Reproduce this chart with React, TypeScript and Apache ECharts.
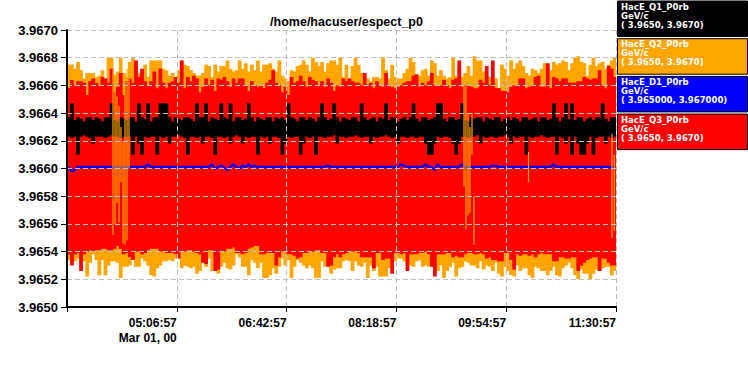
import React, { useEffect, useRef } from "react";
import * as echarts from "echarts";

// ---------- texts ----------
const TITLE = "/home/hacuser/espect_p0";
const X_TICK_LABELS = ["", "05:06:57", "06:42:57", "08:18:57", "09:54:57", "11:30:57"];
const X_DATE_LABEL = "Mar 01, 00";
const X_SPAN_MINUTES = 480; // 03:30:57 .. 11:30:57
const X_TICK_MINUTES = 96;
const Y_MIN = 3.965;
const Y_MAX = 3.967;
const Y_STEP = 0.0002;

const legendNames = ["HacE_Q1_P0rb", "HacE_Q2_P0rb", "HacE_D1_P0rb", "HacE_Q3_P0rb"];
const legendUnits = ["GeV/c", "GeV/c", "GeV/c", "GeV/c"];
const legendRanges = ["( 3.9650, 3.9670)", "( 3.9650, 3.9670)", "( 3.965000, 3.967000)", "( 3.9650, 3.9670)"];
const legendColors = ["#000000", "#ffa500", "#0000ff", "#ff0000"];

// ---------- data: per-sample envelopes (180 samples over 8 h) ----------
// HacE_Q3_P0rb (red)
const q3High = [
  3.96658, 3.96664, 3.96660, 3.96663, 3.96663, 3.96662, 3.96653, 3.96663, 3.96665, 3.96662,
  3.96660, 3.96666, 3.96665, 3.96662, 3.96672, 3.96655, 3.96659, 3.96669, 3.96653, 3.96663,
  3.96665, 3.96662, 3.96678, 3.96666, 3.96672, 3.96663, 3.96660, 3.96663, 3.96670, 3.96658,
  3.96672, 3.96662, 3.96658, 3.96662, 3.96663, 3.96666, 3.96662, 3.96678, 3.96658, 3.96666,
  3.96663, 3.96667, 3.96665, 3.96655, 3.96659, 3.96665, 3.96660, 3.96664, 3.96656, 3.96665,
  3.96664, 3.96666, 3.96663, 3.96659, 3.96665, 3.96662, 3.96665, 3.96665, 3.96660, 3.96656,
  3.96663, 3.96660, 3.96659, 3.96660, 3.96658, 3.96662, 3.96664, 3.96671, 3.96662, 3.96660,
  3.96655, 3.96659, 3.96653, 3.96666, 3.96662, 3.96663, 3.96667, 3.96663, 3.96659, 3.96666,
  3.96664, 3.96663, 3.96660, 3.96663, 3.96659, 3.96665, 3.96662, 3.96656, 3.96660, 3.96659,
  3.96665, 3.96663, 3.96665, 3.96663, 3.96662, 3.96662, 3.96660, 3.96669, 3.96660, 3.96662,
  3.96658, 3.96663, 3.96660, 3.96659, 3.96669, 3.96660, 3.96659, 3.96658, 3.96659, 3.96660,
  3.96662, 3.96663, 3.96663, 3.96667, 3.96668, 3.96659, 3.96662, 3.96660, 3.96663, 3.96669,
  3.96660, 3.96660, 3.96660, 3.96664, 3.96660, 3.96658, 3.96664, 3.96665, 3.96678, 3.96659,
  3.96660, 3.96660, 3.96659, 3.96658, 3.96658, 3.96664, 3.96662, 3.96674, 3.96660, 3.96678,
  3.96658, 3.96658, 3.96656, 3.96656, 3.96655, 3.96659, 3.96660, 3.96660, 3.96665, 3.96665,
  3.96658, 3.96659, 3.96660, 3.96666, 3.96667, 3.96659, 3.96659, 3.96676, 3.96658, 3.96666,
  3.96665, 3.96663, 3.96665, 3.96665, 3.96662, 3.96662, 3.96662, 3.96663, 3.96663, 3.96666,
  3.96665, 3.96664, 3.96665, 3.96665, 3.96671, 3.96660, 3.96658, 3.96674, 3.96672, 3.96666,
];
const q3Low = [
  3.96538, 3.96530, 3.96538, 3.96539, 3.96526, 3.96538, 3.96540, 3.96541, 3.96540, 3.96541,
  3.96541, 3.96542, 3.96542, 3.96541, 3.96541, 3.96542, 3.96544, 3.96542, 3.96538, 3.96539,
  3.96536, 3.96534, 3.96540, 3.96540, 3.96538, 3.96539, 3.96541, 3.96542, 3.96542, 3.96542,
  3.96540, 3.96540, 3.96539, 3.96539, 3.96539, 3.96538, 3.96535, 3.96540, 3.96540, 3.96541,
  3.96541, 3.96540, 3.96539, 3.96538, 3.96532, 3.96531, 3.96541, 3.96541, 3.96526, 3.96527,
  3.96540, 3.96540, 3.96542, 3.96542, 3.96543, 3.96539, 3.96539, 3.96538, 3.96539, 3.96542,
  3.96543, 3.96544, 3.96544, 3.96538, 3.96538, 3.96539, 3.96539, 3.96539, 3.96530, 3.96536,
  3.96540, 3.96540, 3.96538, 3.96538, 3.96537, 3.96535, 3.96536, 3.96539, 3.96539, 3.96540,
  3.96540, 3.96541, 3.96541, 3.96539, 3.96539, 3.96529, 3.96530, 3.96536, 3.96538, 3.96536,
  3.96538, 3.96539, 3.96540, 3.96540, 3.96540, 3.96539, 3.96536, 3.96536, 3.96536, 3.96536,
  3.96528, 3.96539, 3.96539, 3.96534, 3.96535, 3.96535, 3.96524, 3.96539, 3.96539, 3.96538,
  3.96539, 3.96526, 3.96538, 3.96538, 3.96538, 3.96539, 3.96539, 3.96540, 3.96538, 3.96529,
  3.96522, 3.96538, 3.96538, 3.96538, 3.96539, 3.96539, 3.96536, 3.96537, 3.96536, 3.96536,
  3.96538, 3.96539, 3.96539, 3.96538, 3.96538, 3.96539, 3.96538, 3.96535, 3.96536, 3.96534,
  3.96534, 3.96533, 3.96533, 3.96539, 3.96539, 3.96534, 3.96527, 3.96538, 3.96537, 3.96538,
  3.96538, 3.96537, 3.96538, 3.96536, 3.96538, 3.96539, 3.96538, 3.96538, 3.96538, 3.96533,
  3.96533, 3.96536, 3.96536, 3.96535, 3.96535, 3.96536, 3.96536, 3.96526, 3.96530, 3.96532,
  3.96534, 3.96535, 3.96536, 3.96536, 3.96526, 3.96535, 3.96535, 3.96532, 3.96530, 3.96530,
];
// HacE_Q2_P0rb (orange)
const q2High = [
  3.96675, 3.96675, 3.96672, 3.96677, 3.96671, 3.96665, 3.96669, 3.96669, 3.96669, 3.96666,
  3.96667, 3.96671, 3.96665, 3.96680, 3.96680, 3.96667, 3.96670, 3.96680, 3.96669, 3.96666,
  3.96677, 3.96680, 3.96675, 3.96669, 3.96667, 3.96675, 3.96666, 3.96678, 3.96678, 3.96678,
  3.96678, 3.96672, 3.96671, 3.96667, 3.96669, 3.96665, 3.96671, 3.96678, 3.96675, 3.96674,
  3.96671, 3.96669, 3.96667, 3.96667, 3.96669, 3.96675, 3.96674, 3.96666, 3.96675, 3.96670,
  3.96674, 3.96674, 3.96678, 3.96672, 3.96670, 3.96671, 3.96678, 3.96672, 3.96676, 3.96670,
  3.96675, 3.96671, 3.96678, 3.96670, 3.96675, 3.96675, 3.96676, 3.96672, 3.96670, 3.96678,
  3.96667, 3.96665, 3.96663, 3.96671, 3.96670, 3.96674, 3.96675, 3.96678, 3.96675, 3.96670,
  3.96680, 3.96677, 3.96674, 3.96677, 3.96670, 3.96676, 3.96678, 3.96678, 3.96675, 3.96680,
  3.96666, 3.96675, 3.96665, 3.96674, 3.96680, 3.96675, 3.96669, 3.96666, 3.96665, 3.96663,
  3.96666, 3.96666, 3.96665, 3.96680, 3.96671, 3.96665, 3.96675, 3.96666, 3.96665, 3.96665,
  3.96669, 3.96672, 3.96680, 3.96677, 3.96665, 3.96667, 3.96671, 3.96672, 3.96667, 3.96678,
  3.96676, 3.96667, 3.96671, 3.96667, 3.96665, 3.96666, 3.96680, 3.96667, 3.96672, 3.96666,
  3.96669, 3.96674, 3.96667, 3.96681, 3.96678, 3.96678, 3.96670, 3.96667, 3.96666, 3.96664,
  3.96665, 3.96658, 3.96675, 3.96672, 3.96667, 3.96678, 3.96672, 3.96676, 3.96678, 3.96674,
  3.96669, 3.96667, 3.96672, 3.96671, 3.96669, 3.96672, 3.96676, 3.96675, 3.96671, 3.96677,
  3.96675, 3.96676, 3.96678, 3.96677, 3.96671, 3.96676, 3.96680, 3.96681, 3.96677, 3.96676,
  3.96667, 3.96675, 3.96680, 3.96674, 3.96676, 3.96677, 3.96672, 3.96675, 3.96678, 3.96680,
];
const q2Low = [
  3.96534, 3.96533, 3.96533, 3.96535, 3.96533, 3.96533, 3.96522, 3.96532, 3.96538, 3.96534,
  3.96523, 3.96534, 3.96523, 3.96530, 3.96533, 3.96533, 3.96532, 3.96521, 3.96529, 3.96529,
  3.96530, 3.96534, 3.96529, 3.96529, 3.96535, 3.96533, 3.96530, 3.96523, 3.96522, 3.96528,
  3.96530, 3.96533, 3.96533, 3.96534, 3.96533, 3.96535, 3.96535, 3.96528, 3.96530, 3.96529,
  3.96528, 3.96529, 3.96524, 3.96526, 3.96532, 3.96529, 3.96535, 3.96526, 3.96526, 3.96524,
  3.96529, 3.96532, 3.96528, 3.96527, 3.96530, 3.96538, 3.96536, 3.96529, 3.96529, 3.96523,
  3.96534, 3.96532, 3.96528, 3.96532, 3.96521, 3.96521, 3.96523, 3.96528, 3.96524, 3.96529,
  3.96535, 3.96530, 3.96534, 3.96521, 3.96529, 3.96534, 3.96532, 3.96530, 3.96528, 3.96530,
  3.96528, 3.96521, 3.96521, 3.96533, 3.96529, 3.96530, 3.96524, 3.96527, 3.96528, 3.96528,
  3.96533, 3.96534, 3.96533, 3.96526, 3.96533, 3.96530, 3.96529, 3.96532, 3.96521, 3.96530,
  3.96526, 3.96529, 3.96522, 3.96522, 3.96522, 3.96528, 3.96532, 3.96533, 3.96535, 3.96535,
  3.96533, 3.96532, 3.96530, 3.96529, 3.96533, 3.96534, 3.96529, 3.96530, 3.96529, 3.96529,
  3.96530, 3.96526, 3.96530, 3.96521, 3.96526, 3.96529, 3.96532, 3.96522, 3.96528, 3.96529,
  3.96533, 3.96532, 3.96530, 3.96530, 3.96528, 3.96533, 3.96527, 3.96530, 3.96529, 3.96526,
  3.96532, 3.96524, 3.96522, 3.96529, 3.96526, 3.96523, 3.96522, 3.96530, 3.96526, 3.96528,
  3.96528, 3.96523, 3.96521, 3.96529, 3.96528, 3.96526, 3.96526, 3.96523, 3.96526, 3.96529,
  3.96523, 3.96522, 3.96528, 3.96530, 3.96532, 3.96528, 3.96523, 3.96520, 3.96527, 3.96524,
  3.96524, 3.96520, 3.96524, 3.96527, 3.96526, 3.96528, 3.96529, 3.96529, 3.96523, 3.96526,
];
// HacE_Q2_P0rb short excursions across the band: [minute, low, high]
const q2Excursions = [
  [40.2, 3.96552, 3.96672], [42.0, 3.9656, 3.96668], [43.7, 3.96575, 3.96652],
  [45.5, 3.96561, 3.96645], [47.2, 3.9659, 3.9663], [49.0, 3.96546, 3.9662],
  [50.7, 3.96545, 3.96668], [52.5, 3.96548, 3.96672], [54.2, 3.966, 3.96672],
  [347.1, 3.96587, 3.96668], [348.8, 3.96556, 3.9666], [350.6, 3.96566, 3.9664],
  [352.3, 3.96568, 3.9663], [354.1, 3.9661, 3.9664], [355.8, 3.96545, 3.9658],
  [403.5, 3.9659, 3.96612], [476.5, 3.9655, 3.96625], [478.5, 3.96555, 3.9661],
];
// HacE_Q1_P0rb (black)
const q1High = [
  3.96637, 3.96647, 3.96635, 3.96637, 3.96636, 3.96634, 3.96637, 3.96637, 3.96635, 3.96637,
  3.96636, 3.96634, 3.96637, 3.96637, 3.96647, 3.96635, 3.96634, 3.96637, 3.96636, 3.96635,
  3.96637, 3.96637, 3.96634, 3.96647, 3.96637, 3.96636, 3.96647, 3.96634, 3.96637, 3.96637,
  3.96647, 3.96647, 3.96647, 3.96637, 3.96634, 3.96637, 3.96636, 3.96635, 3.96637, 3.96637,
  3.96636, 3.96634, 3.96647, 3.96637, 3.96637, 3.96647, 3.96634, 3.96637, 3.96636, 3.96635,
  3.96647, 3.96637, 3.96636, 3.96647, 3.96634, 3.96637, 3.96637, 3.96635, 3.96636, 3.96647,
  3.96637, 3.96634, 3.96637, 3.96636, 3.96635, 3.96637, 3.96637, 3.96634, 3.96637, 3.96636,
  3.96637, 3.96635, 3.96647, 3.96637, 3.96636, 3.96634, 3.96637, 3.96637, 3.96635, 3.96637,
  3.96636, 3.96634, 3.96637, 3.96647, 3.96637, 3.96635, 3.96636, 3.96647, 3.96637, 3.96634,
  3.96637, 3.96636, 3.96635, 3.96637, 3.96637, 3.96634, 3.96647, 3.96637, 3.96635, 3.96636,
  3.96637, 3.96634, 3.96637, 3.96636, 3.96647, 3.96635, 3.96637, 3.96637, 3.96634, 3.96636,
  3.96637, 3.96635, 3.96637, 3.96647, 3.96636, 3.96634, 3.96637, 3.96637, 3.96635, 3.96636,
  3.96637, 3.96647, 3.96647, 3.96636, 3.96634, 3.96637, 3.96637, 3.96635, 3.96636, 3.96647,
  3.96635, 3.96634, 3.96637, 3.96636, 3.96637, 3.96637, 3.96634, 3.96637, 3.96636, 3.96635,
  3.96637, 3.96637, 3.96634, 3.96636, 3.96637, 3.96635, 3.96637, 3.96636, 3.96634, 3.96637,
  3.96637, 3.96635, 3.96636, 3.96637, 3.96634, 3.96637, 3.96637, 3.96635, 3.96636, 3.96647,
  3.96637, 3.96634, 3.96637, 3.96647, 3.96636, 3.96647, 3.96635, 3.96637, 3.96637, 3.96634,
  3.96636, 3.96637, 3.96635, 3.96637, 3.96637, 3.96647, 3.96636, 3.96634, 3.96637, 3.96637,
];
const q1Low = [
  3.96623, 3.96622, 3.96623, 3.9661, 3.96623, 3.96624, 3.96623, 3.96622, 3.96618, 3.96623,
  3.96623, 3.96623, 3.96622, 3.96623, 3.96624, 3.96623, 3.96623, 3.96622, 3.96623, 3.96623,
  3.96623, 3.9661, 3.96623, 3.96618, 3.9661, 3.96623, 3.96622, 3.96623, 3.96623, 3.9661,
  3.96623, 3.96622, 3.96623, 3.96618, 3.96623, 3.96623, 3.96624, 3.96623, 3.96622, 3.9661,
  3.96623, 3.96623, 3.96622, 3.96623, 3.96618, 3.96623, 3.96623, 3.96622, 3.9661, 3.96623,
  3.96623, 3.96622, 3.96623, 3.96618, 3.96623, 3.96624, 3.96623, 3.96618, 3.96623, 3.96622,
  3.96623, 3.96623, 3.9661, 3.96623, 3.96622, 3.96623, 3.96618, 3.96623, 3.96623, 3.96622,
  3.9661, 3.96618, 3.96623, 3.96622, 3.96623, 3.96623, 3.9661, 3.96618, 3.96623, 3.96622,
  3.96623, 3.9661, 3.96623, 3.96623, 3.96622, 3.96623, 3.96623, 3.96624, 3.96618, 3.96623,
  3.96623, 3.96622, 3.96623, 3.96623, 3.96624, 3.96623, 3.96622, 3.96623, 3.96623, 3.96618,
  3.96623, 3.96622, 3.96623, 3.96623, 3.96624, 3.96623, 3.96622, 3.96623, 3.96618, 3.96623,
  3.96623, 3.96622, 3.96623, 3.96623, 3.96622, 3.96623, 3.96623, 3.96618, 3.9661, 3.9661,
  3.96618, 3.96623, 3.96622, 3.96623, 3.96623, 3.96622, 3.96618, 3.9661, 3.96618, 3.96623,
  3.96623, 3.96622, 3.96623, 3.96623, 3.96624, 3.96618, 3.96623, 3.96622, 3.96623, 3.96623,
  3.96622, 3.96623, 3.96623, 3.96624, 3.96623, 3.96618, 3.96623, 3.96622, 3.96623, 3.96623,
  3.9661, 3.96623, 3.96622, 3.96623, 3.96623, 3.96624, 3.96623, 3.96622, 3.96623, 3.96623,
  3.9661, 3.96623, 3.96622, 3.96618, 3.96623, 3.9661, 3.96623, 3.96618, 3.9661, 3.9661,
  3.96618, 3.96623, 3.9661, 3.96622, 3.96623, 3.96623, 3.96618, 3.96623, 3.96622, 3.96623,
];
// HacE_D1_P0rb (blue)
const d1Value = [
  3.96601, 3.96598, 3.96599, 3.96601, 3.96601, 3.96601, 3.96601, 3.96601, 3.96601, 3.96601,
  3.96601, 3.96601, 3.96601, 3.96601, 3.96601, 3.96601, 3.96601, 3.96601, 3.96601, 3.96601,
  3.96601, 3.96601, 3.96601, 3.96601, 3.96601, 3.96601, 3.96603, 3.96601, 3.96601, 3.96601,
  3.96601, 3.96601, 3.96601, 3.96601, 3.96601, 3.96601, 3.96601, 3.96601, 3.96601, 3.96601,
  3.96601, 3.96601, 3.96601, 3.96601, 3.96601, 3.96601, 3.96601, 3.96603, 3.966, 3.96601,
  3.96602, 3.96601, 3.96599, 3.96601, 3.96603, 3.96601, 3.966, 3.96602, 3.96601, 3.96603,
  3.96601, 3.96602, 3.96601, 3.96601, 3.96601, 3.96601, 3.96601, 3.96601, 3.96601, 3.96601,
  3.96601, 3.96601, 3.96601, 3.96601, 3.96601, 3.96601, 3.96601, 3.96601, 3.96601, 3.96601,
  3.96601, 3.96601, 3.96601, 3.96601, 3.96601, 3.96602, 3.96601, 3.96601, 3.96601, 3.96601,
  3.96601, 3.96601, 3.96601, 3.96601, 3.96601, 3.96601, 3.96601, 3.96601, 3.96601, 3.96601,
  3.96601, 3.96601, 3.96601, 3.96601, 3.96601, 3.96601, 3.96601, 3.96601, 3.96601, 3.96603,
  3.96602, 3.96601, 3.96601, 3.96601, 3.96601, 3.96601, 3.96601, 3.96603, 3.96601, 3.96601,
  3.96599, 3.96603, 3.96601, 3.96601, 3.96601, 3.96601, 3.96601, 3.96601, 3.96601, 3.96603,
  3.96601, 3.96601, 3.96601, 3.96601, 3.96601, 3.96601, 3.96601, 3.96601, 3.96601, 3.96602,
  3.96602, 3.96601, 3.96601, 3.96601, 3.96601, 3.96601, 3.96601, 3.96601, 3.96601, 3.96601,
  3.96601, 3.96601, 3.96601, 3.96601, 3.96601, 3.96601, 3.96601, 3.96601, 3.96601, 3.96603,
  3.96601, 3.96601, 3.96601, 3.96601, 3.96601, 3.96601, 3.96601, 3.96601, 3.96601, 3.96601,
  3.96601, 3.96601, 3.96601, 3.96601, 3.96601, 3.96601, 3.96601, 3.96601, 3.96601, 3.96601,
];

// ---------- helpers ----------
const N = q3High.length;
const STEP = X_SPAN_MINUTES / N;

function bandData(lo: number[], hi: number[]) {
  return lo.map((l, i) => [i * STEP, (i + 1) * STEP, l, hi[i]]);
}

function bandRender(color: string) {
  return (_params: any, api: any) => {
    const p0 = api.coord([api.value(0), api.value(3)]);
    const p1 = api.coord([api.value(1), api.value(2)]);
    return {
      type: "rect",
      shape: { x: p0[0], y: p0[1], width: p1[0] - p0[0] + 0.7, height: p1[1] - p0[1] },
      style: { fill: color },
      silent: true,
    };
  };
}

function spikeRender(color: string, width: number) {
  return (_params: any, api: any) => {
    const p0 = api.coord([api.value(0), api.value(2)]);
    const p1 = api.coord([api.value(0), api.value(1)]);
    return {
      type: "rect",
      shape: { x: p0[0] - width / 2, y: p0[1], width, height: p1[1] - p0[1] },
      style: { fill: color },
      silent: true,
    };
  };
}

const FONT = "Liberation Sans";
const GRID_LINE = { show: true, lineStyle: { color: "#c0c0c0", type: [5, 3] as any, width: 1 } };

function legendGraphics() {
  const els: any[] = [];
  legendNames.forEach((name, k) => {
    const top = k * 37.7 + 0.5;
    els.push({
      type: "rect",
      left: 617,
      top,
      shape: { width: 130, height: 35.5 },
      style: { fill: legendColors[k], stroke: "#000", lineWidth: 1 },
    });
    [name, legendUnits[k], legendRanges[k]].forEach((t, j) => {
      els.push({
        type: "text",
        x: 621,
        y: top + 6 + j * 9,
        style: {
          text: t,
          fill: "#fff",
          fontSize: 8.5,
          fontWeight: "bold",
          fontFamily: "DejaVu Sans",
          verticalAlign: "middle",
        },
      });
    });
  });
  return els;
}

export default function App() {
  const ref = useRef<HTMLDivElement>(null);
  useEffect(() => {
    const chart = echarts.init(ref.current!, null, { renderer: "svg" });
    const option: any = {
      animation: false,
      backgroundColor: "#ffffff",
      title: {
        text: TITLE,
        left: 341.5,
        textAlign: "center",
        top: 10,
        textStyle: { fontFamily: FONT, fontSize: 12.5, fontWeight: "bold", color: "#000" },
      },
      grid: { left: 67, right: 132, top: 30, bottom: 68, containLabel: false, outerBoundsMode: "none" },
      xAxis: {
        type: "value",
        min: 0,
        max: X_SPAN_MINUTES,
        interval: X_TICK_MINUTES,
        z: 10,
        axisLine: { show: true, lineStyle: { color: "#000", width: 2 } },
        axisTick: { show: true, length: 5, lineStyle: { color: "#000", width: 1 } },
        axisLabel: {
          align: "right",
          margin: 8,
          lineHeight: 15,
          fontFamily: FONT,
          fontSize: 12,
          fontWeight: "bold",
          color: "#000",
          formatter: (v: number) => {
            const k = Math.round(v / X_TICK_MINUTES);
            const s = X_TICK_LABELS[k] || "";
            return k === 1 ? s + "\n" + X_DATE_LABEL : s;
          },
        },
        splitLine: GRID_LINE,
      },
      yAxis: {
        type: "value",
        min: Y_MIN,
        max: Y_MAX,
        interval: Y_STEP,
        z: 10,
        axisLine: { show: true, lineStyle: { color: "#000", width: 2 } },
        axisTick: { show: true, length: 6, lineStyle: { color: "#000", width: 1 } },
        axisLabel: {
          margin: 9,
          fontFamily: FONT,
          fontSize: 13,
          fontWeight: "bold",
          color: "#000",
          formatter: (v: number) => v.toFixed(4),
        },
        splitLine: GRID_LINE,
      },
      series: [
        {
          name: legendNames[1],
          type: "custom",
          z: 2,
          clip: true,
          renderItem: bandRender(legendColors[1]),
          data: bandData(q2Low, q2High),
        },
        {
          name: legendNames[3],
          type: "custom",
          z: 3,
          clip: true,
          renderItem: bandRender(legendColors[3]),
          data: bandData(q3Low, q3High),
        },
        {
          name: legendNames[0],
          type: "custom",
          z: 4,
          clip: true,
          renderItem: bandRender(legendColors[0]),
          data: bandData(q1Low, q1High),
        },
        {
          name: legendNames[2],
          type: "line",
          z: 5,
          symbol: "none",
          lineStyle: { color: legendColors[2], width: 2.5 },
          data: d1Value.map((v, i) => [(i + 0.5) * STEP, v]),
        },
        {
          name: legendNames[1] + " excursions",
          type: "custom",
          z: 6,
          clip: true,
          renderItem: spikeRender(legendColors[1], 1.2),
          data: q2Excursions,
        },
      ],
      graphic: legendGraphics(),
    };
    chart.setOption(option);
    return () => chart.dispose();
  }, []);
  return (
    <div
      ref={ref}
      style={{ position: "absolute", left: 0, top: 0, width: 748, height: 375, background: "#fff" }}
    />
  );
}
